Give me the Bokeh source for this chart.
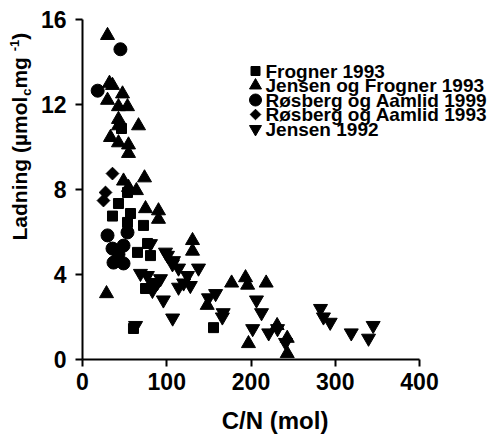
import math
from bokeh.plotting import figure
from bokeh.layouts import row, column
from bokeh.models import Range1d, FixedTicker
from bokeh.core.properties import value
from bokeh.embed import file_html
from bokeh.resources import INLINE

# ---------------- data ----------------
frogner_x = [46.3, 35.6, 42.7, 53.4, 57.0, 53.4, 72.4, 77.2, 65.3, 80.7, 74.8, 60.5, 155.5]
frogner_y = [10.87, 6.75, 7.34, 7.86, 6.87, 6.45, 6.31, 5.46, 5.04, 4.89, 3.34, 1.46, 1.5]

jf_x = [29.7, 32.0, 35.6, 47.5, 29.7, 42.7, 53.4, 42.7, 42.7, 66.5, 33.2, 42.7, 54.6, 54.6,
        48.7, 73.6, 54.6, 64.0, 74.8, 90.2, 90.2, 130.6, 130.6, 28.5, 177.0, 193.5, 196.0,
        218.0, 148.0, 197.0, 243.0, 231.0, 243.0]
jf_y = [15.25, 13.0, 12.9, 12.5, 12.2, 11.9, 11.9, 11.3, 11.0, 11.0, 10.45, 10.2, 10.1, 9.7,
        8.4, 8.55, 8.1, 7.95, 7.1, 7.0, 6.6, 5.6, 5.1, 3.1, 3.6, 3.85, 3.5,
        3.6, 2.55, 0.75, 1.0, 1.6, 0.28]

ra99_x = [45.0, 18.0, 29.7, 35.6, 36.8, 48.7, 48.7, 53.4, 42.7]
ra99_y = [14.6, 12.65, 5.84, 5.22, 4.56, 4.52, 5.36, 5.98, 4.95]

ra93_x = [35.6, 27.3, 24.9]
ra93_y = [8.75, 7.86, 7.48]

j92_x = [80.7, 98.5, 108.0, 114.0, 137.7, 84.3, 92.6, 120.0, 128.0, 114.0, 96.0, 107.0,
         149.5, 158.0, 167.0, 166.0, 206.5, 212.5, 202.0, 221.0, 231.5, 241.0, 282.5, 286.0,
         294.0, 319.0, 339.5, 345.0, 63.0, 68.8, 77.0, 89.0, 83.0, 124.6, 100.9, 106.8]
j92_y = [5.45, 5.05, 4.65, 4.3, 4.3, 3.6, 3.8, 3.6, 3.48, 3.4, 2.8, 1.95,
         2.9, 3.1, 2.2, 2.0, 2.8, 2.2, 1.45, 1.25, 1.45, 0.8, 2.4, 2.0,
         1.75, 1.25, 1.0, 1.6, 1.6, 4.05, 3.95, 3.62, 3.25, 3.95, 4.9, 4.5]

series_names = ["Frogner 1993", "Jensen og Frogner 1993", "Røsberg og Aamlid 1999",
                "Røsberg og Aamlid 1993", "Jensen 1992"]
x_ticks = [0, 100, 200, 300, 400]
y_ticks = [0, 4, 8, 12, 16]
x_label = "C/N (mol)"

FONT = "Liberation Sans"

# page-pixel helpers (layout only): x=0 at px 82, 0.8425 px/unit; y=0 at px 359, 21.25 px/unit
XS, YS = 0.8425, 21.25

def px_to_x(px):
    return (px - 82) / XS

def py_to_y(py):
    return (359 - py) / YS

PAGE_W, PAGE_H = 497, 435
LBL_W = 37            # strip holding the y-axis title
MAIN_W = PAGE_W - LBL_W
MAIN_H = 402
BOT_H = PAGE_H - MAIN_H


def bare(fig):
    fig.outline_line_color = None
    fig.background_fill_color = "white"
    fig.border_fill_color = "white"
    return fig


# ---------------- main plot ----------------
p = figure(width=MAIN_W, height=MAIN_H,
           x_range=Range1d(0, px_to_x(PAGE_W)), y_range=Range1d(0, py_to_y(12)),
           output_backend="svg", toolbar_location=None,
           min_border_left=82 - LBL_W, min_border_right=0, min_border_top=12,
           min_border_bottom=MAIN_H - 359)
bare(p)
p.xgrid.visible = False
p.ygrid.visible = False

for ax in (p.xaxis[0], p.yaxis[0]):
    ax.axis_line_width = 2
    ax.major_tick_line_width = 2
    ax.major_tick_in = 0
    ax.major_tick_out = 7
    ax.minor_tick_line_color = None
    ax.major_label_text_font = FONT
    ax.major_label_text_font_style = "bold"
    ax.major_label_text_font_size = "23px"
    ax.major_label_text_color = "black"
    ax.axis_line_color = "black"
    ax.major_tick_line_color = "black"

p.xaxis[0].bounds = (x_ticks[0], x_ticks[-1])
p.xaxis[0].ticker = FixedTicker(ticks=x_ticks)
p.xaxis[0].major_label_standoff = 6

p.yaxis[0].bounds = (y_ticks[0], y_ticks[-1])
p.yaxis[0].ticker = FixedTicker(ticks=y_ticks)
p.yaxis[0].major_label_standoff = 9

p.scatter(frogner_x, frogner_y, marker="square", size=10, color="black")
p.scatter(jf_x, jf_y, marker="triangle", size=14, color="black")
p.scatter(ra99_x, ra99_y, marker="circle", size=13, color="black")
p.scatter(ra93_x, ra93_y, marker="square", size=9, angle=math.pi / 4, color="black")
p.scatter(j92_x, j92_y, marker="inverted_triangle", size=14, color="black")

# legend (manual)
row_py = [70.5, 85, 99.5, 114, 128.5]
leg_x = px_to_x(255)
leg_tx = px_to_x(265)
leg_markers = [("square", 9, 0.0), ("triangle", 12, 0.0), ("circle", 12, 0.0),
               ("square", 7.5, math.pi / 4), ("inverted_triangle", 12, 0.0)]
for (mk, sz, ang), py in zip(leg_markers, row_py):
    p.scatter([leg_x], [py_to_y(py)], marker=mk, size=sz, angle=ang, color="black")
p.text(x=[leg_tx] * 5, y=[py_to_y(py) for py in row_py], text=series_names,
       text_font=value(FONT), text_font_style="bold", text_font_size="19px",
       text_baseline="middle", text_align="left", text_color="black")

# ---------------- bottom strip: x-axis title ----------------
b = figure(width=MAIN_W, height=BOT_H,
           x_range=Range1d(px_to_x(LBL_W), px_to_x(PAGE_W)), y_range=Range1d(0, BOT_H),
           output_backend="svg", toolbar_location=None,
           x_axis_location=None, y_axis_location=None,
           min_border_left=0, min_border_right=0, min_border_top=0, min_border_bottom=0)
bare(b)
b.grid.visible = False
b.text(x=[(x_ticks[0] + x_ticks[-1]) / 2], y=[PAGE_H - 420], text=[x_label],
       text_font=value(FONT), text_font_style="bold", text_font_size="24px",
       text_baseline="middle", text_align="center", text_color="black")

# ---------------- left strip: y-axis title with sub/superscript ----------------
a = figure(width=LBL_W, height=PAGE_H,
           x_range=Range1d(0, LBL_W), y_range=Range1d(0, PAGE_H),
           output_backend="svg", toolbar_location=None,
           x_axis_location=None, y_axis_location=None,
           min_border_left=0, min_border_right=0, min_border_top=0, min_border_bottom=0)
bare(a)
a.grid.visible = False

WID = {"L": .611, "a": .556, "d": .611, "n": .611, "i": .278, "g": .611, " ": .278, "(": .333,
       "µ": .611, "m": .889, "o": .611, "l": .278, "c": .556, "-": .333, "1": .556, ")": .333}

def width(s, fs):
    return sum(WID.get(ch, .6) for ch in s) * fs

parts = [("Ladning (µmol", 21, 19.0), ("c", 13, 25.5), (" mg", 21, 19.0),
         ("-1", 13, 13.5), (")", 21, 19.0)]
cur_py = 240.0
for txt, fs, mid_px in parts:
    a.text(x=[mid_px], y=[PAGE_H - cur_py], text=[txt],
           angle=math.pi / 2, text_font=value(FONT), text_font_style="bold",
           text_font_size=f"{fs}px", text_align="left",
           text_baseline="middle", text_color="black")
    cur_py -= width(txt, fs)

layout = row(a, column(p, b, spacing=0), spacing=0)
open("out.html", "w").write(file_html(layout, INLINE))
